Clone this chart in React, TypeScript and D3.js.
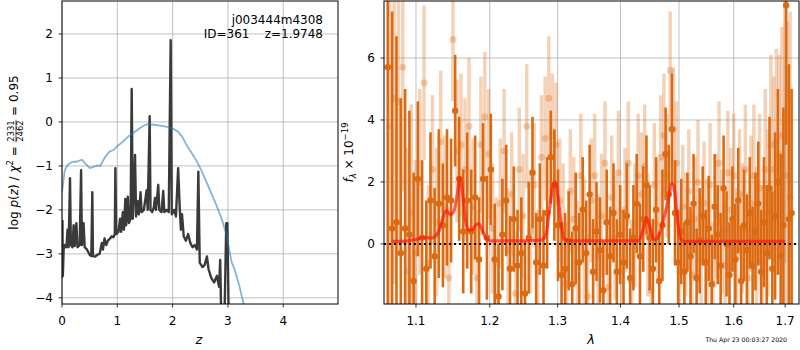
import React, { useEffect, useRef } from 'react';
import * as d3 from 'd3';

// --- left panel: redshift PDF ---
const pzZ = [0, 0.008, 0.015, 0.03, 0.05, 0.08, 0.1, 0.12, 0.145, 0.16, 0.19, 0.21, 0.23, 0.26, 0.28, 0.32, 0.345, 0.36, 0.39, 0.41, 0.45, 0.5, 0.53, 0.548, 0.56, 0.6, 0.64, 0.68, 0.72, 0.74, 0.77, 0.8, 0.83, 0.87, 0.9, 0.93, 0.955, 0.965, 0.98, 1.02, 1.05, 1.07, 1.1, 1.12, 1.145, 1.16, 1.19, 1.21, 1.24, 1.26, 1.28, 1.3, 1.32, 1.34, 1.37, 1.39, 1.42, 1.44, 1.48, 1.53, 1.55, 1.585, 1.6, 1.63, 1.66, 1.68, 1.7, 1.74, 1.76, 1.8, 1.83, 1.85, 1.89, 1.93, 1.965, 1.985, 2.03, 2.06, 2.1, 2.13, 2.15, 2.17, 2.2, 2.24, 2.28, 2.32, 2.36, 2.4, 2.44, 2.465, 2.49, 2.54, 2.58, 2.62, 2.65, 2.7, 2.75, 2.8, 2.84, 2.86, 2.88, 2.93, 2.97, 2.99, 3.02, 3.1];
const pzLogp = [-3.55, -2.25, -3.5, -2.9, -2.8, -2.85, -2.45, -2.85, -1.28, -2.8, -2.85, -2.35, -2.82, -2.3, -2.85, -2.8, -1.1, -2.8, -2.3, -2.85, -2.9, -3.02, -3.05, -1.6, -3.05, -3.06, -3.02, -3.0, -2.75, -2.9, -2.65, -2.8, -2.7, -2.65, -2.6, -2.62, -2.55, -1.05, -2.55, -2.5, -2.2, -2.5, -2.05, -2.45, -1.75, -2.35, -1.7, -2.3, -2.2, 0.75, -2.2, -1.6, -0.75, -2.15, -1.8, -2.1, -1.6, -2.05, -2.0, -1.55, -2.0, 0.13, -2.0, -2.05, -1.95, -1.73, -2.0, -1.43, -2.0, -2.05, -1.57, -2.05, -2.0, -2.05, 1.86, -2.1, -2.0, -2.15, -1.05, -2.0, -2.45, -2.1, -2.6, -2.7, -2.55, -2.75, -2.85, -2.8, -2.9, -1.13, -3.2, -3.3, -3.25, -3.06, -3.35, -3.55, -3.65, -3.5, -3.75, -3.14, -4.5, -5.0, -2.3, -2.3, -5.0, -6.0];

const priorZ = [0, 0.02, 0.05, 0.1, 0.15, 0.2, 0.27, 0.36, 0.42, 0.5, 0.56, 0.63, 0.69, 0.78, 0.86, 0.93, 1.0, 1.1, 1.2, 1.3, 1.4, 1.48, 1.55, 1.65, 1.75, 1.9, 2.0, 2.1, 2.18, 2.25, 2.35, 2.43, 2.52, 2.62, 2.72, 2.8, 2.9, 2.98, 3.03, 3.07, 3.12, 3.2, 3.28, 3.35];
const priorLogp = [-1.6, -1.4, -1.1, -0.98, -0.93, -0.91, -0.9, -0.86, -0.94, -1.05, -1.03, -0.99, -1.0, -0.8, -0.67, -0.64, -0.55, -0.45, -0.33, -0.24, -0.15, -0.08, -0.05, -0.06, -0.08, -0.11, -0.15, -0.22, -0.35, -0.52, -0.72, -0.88, -1.1, -1.39, -1.68, -1.92, -2.25, -2.6, -2.95, -3.2, -3.35, -3.7, -4.12, -4.5];

const zTicks = [0, 1, 2, 3, 4];
const lpTicks = [-4, -3, -2, -1, 0, 1, 2];

// --- right panel: 1D spectrum ---
const darkStart = 1.064;
const darkStep = 0.0055;
const darkFlux = [5.7, 0.5, 0.7, -0.3, 0.5, 0.3, -1.2, 2.1, 0.2, -0.8, 1.4, -0.4, 1.3, 0.6, 1.5, 1.4, 4.3, 2.1, 0.4, 1.4, 0.4, 1.5, -0.5, 2.1, 0.2, 2.4, -0.5, -1.7, 0.3, 1.4, -0.8, 0.8, -0.7, -0.3, -1.6, 0.2, 2.3, -0.6, 0.8, -0.7, 1.0, 2.8, 1.9, 0.6, -1.0, -0.8, 0.1, -1.3, 0.5, -0.6, 1.1, -0.3, 1.6, -0.9, 0.4, -0.2, -1.5, 0.7, -0.4, 1.0, -0.9, 0.3, -0.6, 0.9, -1.1, 0.2, 1.3, -0.4, 0.8, 1.9, 0.2, -0.8, 1.1, -1.2, 0.6, 2.9, 1.6, 3.7, 1.0, -0.6, 0.4, -0.9, 0.7, -0.4, 1.3, -1.1, 0.1, 0.9, -0.6, 0.5, -1.3, 1.2, 0.3, -0.7, 1.8, 0.0, -1.0, 0.8, -0.5, 1.4, -1.2, 0.6, -0.2, 1.0, -0.7, 0.4, 1.3, -0.9, 0.7, -0.3, 1.8, -0.8, 0.9, 2.0, -0.4, 0.6, 7.7, 0.8, 1.0];
const darkErr = [8, 7, 6, 5, 4.5, 4, 3.5, 2.5, 2.5, 2.2, 2.2, 2.2, 2.4, 2.0, 2.2, 2.0, 1.8, 2.0, 2.0, 2.2, 2.0, 2.0, 2.0, 1.8, 2.0, 1.8, 1.8, 1.7, 1.8, 1.8, 1.7, 1.7, 1.8, 1.8, 1.7, 1.8, 1.8, 1.6, 1.8, 1.8, 1.8, 1.5, 1.8, 1.8, 1.7, 1.8, 1.6, 1.7, 1.8, 1.6, 1.7, 1.7, 1.6, 1.7, 1.6, 1.7, 1.6, 1.7, 1.6, 1.6, 1.7, 1.6, 1.7, 1.7, 1.6, 1.7, 1.6, 1.7, 1.7, 1.6, 1.7, 1.6, 1.7, 1.6, 1.8, 1.5, 1.6, 1.8, 1.7, 1.7, 1.7, 1.6, 1.6, 1.6, 1.6, 1.6, 1.7, 1.6, 1.7, 1.7, 1.6, 1.7, 1.6, 1.7, 1.7, 1.7, 1.7, 1.7, 1.8, 1.7, 1.8, 1.8, 1.8, 1.8, 1.9, 1.9, 2.0, 2.0, 2.1, 2.2, 2.3, 2.5, 2.7, 3.0, 3.3, 3.8, 4.5, 5, 4];

const lightStart = 1.0665;
const lightStep = 0.0055;
const lightFlux = [3.8, 4.7, 4.6, 5.7, -0.9, 1.0, -0.3, 2.0, 5.2, -0.6, 2.4, 0.7, 3.3, 1.2, -1.1, 6.6, 3.0, 3.2, 2.4, 3.8, 1.2, -1.1, 3.2, 4.1, 2.9, 0.5, -0.6, 1.3, 3.0, -0.2, 1.6, -1.6, 2.4, 0.9, 3.8, 0.4, 1.9, -0.9, 2.8, 3.4, 4.7, 3.5, 3.2, 1.4, 0.6, -1.3, 1.7, 0.8, -0.6, 2.2, 0.1, -1.7, 1.4, 2.2, -0.4, 0.9, 2.6, -1.4, 1.5, 0.2, 2.3, -0.9, 1.1, 2.6, -1.2, 0.6, 2.2, 1.6, 2.5, 0.3, -1.5, 1.9, 0.7, 2.8, 3.5, 2.2, 5.6, 3.7, 2.6, -0.9, 1.2, 0.3, 1.7, -1.0, 0.8, 2.0, -0.5, 1.3, 0.1, 1.9, -1.3, 0.9, 2.6, 0.4, -0.7, 2.3, 1.1, 2.2, -0.2, 1.6, 0.5, 2.4, -1.1, 1.3, 2.2, 0.2, 1.8, -0.6, 2.4, 1.0, 3.2, 2.4, 3.3, 2.9, 3.5, 3.9, 2.2, 1.5];
const lightErr = [6, 6, 5, 4, 4, 3.5, 3, 3, 2.5, 2.5, 2.4, 2.4, 2.3, 2.3, 2.3, 2.0, 2.3, 2.3, 2.3, 2.2, 2.2, 2.2, 2.2, 2.1, 2.1, 2.1, 2.1, 2.1, 2.0, 2.0, 2.0, 2.0, 2.0, 2.0, 2.0, 2.0, 2.0, 2.0, 2.0, 2.0, 2.0, 2.0, 2.0, 2.0, 2.0, 2.0, 2.0, 2.0, 2.0, 2.0, 2.0, 2.0, 2.0, 2.0, 2.0, 2.0, 2.0, 2.0, 2.0, 2.0, 2.0, 2.0, 2.0, 2.0, 2.0, 2.0, 2.0, 2.0, 2.0, 2.0, 2.0, 2.0, 2.0, 2.0, 2.0, 2.0, 1.9, 2.0, 2.0, 2.0, 2.0, 2.0, 2.0, 2.0, 2.0, 2.0, 2.0, 2.0, 2.0, 2.0, 2.0, 2.0, 2.0, 2.0, 2.0, 2.0, 2.0, 2.0, 2.0, 2.1, 2.1, 2.1, 2.2, 2.2, 2.3, 2.3, 2.4, 2.5, 2.6, 2.7, 2.9, 3.0, 3.0, 3.2, 3.5, 4.5, 5, 6];

const modelWave = [1.07, 1.08, 1.09, 1.1, 1.105, 1.11, 1.115, 1.12, 1.125, 1.13, 1.135, 1.14, 1.145, 1.15, 1.155, 1.158, 1.162, 1.166, 1.17, 1.175, 1.18, 1.185, 1.19, 1.195, 1.2, 1.25, 1.275, 1.282, 1.287, 1.292, 1.296, 1.3, 1.305, 1.31, 1.32, 1.4, 1.43, 1.437, 1.444, 1.45, 1.457, 1.463, 1.47, 1.476, 1.482, 1.487, 1.491, 1.495, 1.5, 1.505, 1.51, 1.6, 1.7];
const modelFlux = [0.08, 0.08, 0.1, 0.14, 0.18, 0.2, 0.2, 0.19, 0.24, 0.4, 0.8, 1.08, 0.95, 1.05, 1.6, 2.15, 1.7, 0.8, 0.45, 0.45, 0.6, 0.65, 0.4, 0.18, 0.1, 0.1, 0.12, 0.3, 1.0, 1.8, 2.0, 1.6, 0.7, 0.15, 0.1, 0.1, 0.1, 0.4, 0.85, 0.5, 0.13, 0.2, 0.6, 1.0, 1.5, 1.95, 1.85, 1.2, 0.4, 0.12, 0.08, 0.08, 0.08];

const waveTicks = [1.1, 1.2, 1.3, 1.4, 1.5, 1.6, 1.7];
const fluxTicks = [0, 2, 4, 6];

const FONT = 'DejaVu Sans';
const ORANGE = '#db6a13';

const App: React.FC = () => {
  const svgRef = useRef<SVGSVGElement>(null);

  useEffect(() => {
    if (!svgRef.current) return;
    const svg = d3.select(svgRef.current);
    svg.selectAll('*').remove();
    svg.attr('font-family', FONT);

    const L = { x0: 62, x1: 338, y0: 1, y1: 304 };
    const R = { x0: 384, x1: 799, y0: 1, y1: 304 };

    const defs = svg.append('defs');
    [['clipL', L], ['clipR', R]].forEach(([id, b]: any) => {
      defs.append('clipPath').attr('id', id).append('rect')
        .attr('x', b.x0).attr('y', b.y0).attr('width', b.x1 - b.x0).attr('height', b.y1 - b.y0);
    });

    // ---------- left panel ----------
    const zx = d3.scaleLinear().domain([0, 4.99]).range([L.x0, L.x1]);
    const ly = d3.scaleLinear().domain([-4.14, 2.75]).range([L.y1, L.y0]);

    const gl = svg.append('g');
    zTicks.forEach(t => {
      gl.append('line').attr('x1', zx(t)).attr('x2', zx(t)).attr('y1', L.y0).attr('y2', L.y1)
        .attr('stroke', '#b0b0b0').attr('stroke-width', 0.8);
    });
    lpTicks.forEach(t => {
      gl.append('line').attr('x1', L.x0).attr('x2', L.x1).attr('y1', ly(t)).attr('y2', ly(t))
        .attr('stroke', '#b0b0b0').attr('stroke-width', 0.8);
    });

    const lineL = d3.line<number>().x((_, i) => zx(pzZ[i])).y(d => ly(d));
    const priorLine = d3.line<number>().x((_, i) => zx(priorZ[i])).y(d => ly(d));
    const plotL = gl.append('g').attr('clip-path', 'url(#clipL)');
    plotL.append('path').attr('d', lineL(pzLogp) as string).attr('fill', 'none')
      .attr('stroke', '#3a3a3a').attr('stroke-width', 2.4).attr('stroke-linejoin', 'round');
    plotL.append('path').attr('d', priorLine(priorLogp) as string).attr('fill', 'none')
      .attr('stroke', '#1f77b4').attr('stroke-opacity', 0.55).attr('stroke-width', 1.8);

    gl.append('rect').attr('x', L.x0).attr('y', L.y0).attr('width', L.x1 - L.x0).attr('height', L.y1 - L.y0)
      .attr('fill', 'none').attr('stroke', 'black').attr('stroke-width', 1);

    zTicks.forEach(t => {
      gl.append('line').attr('x1', zx(t)).attr('x2', zx(t)).attr('y1', L.y1).attr('y2', L.y1 + 3.5)
        .attr('stroke', 'black').attr('stroke-width', 0.8);
      gl.append('text').attr('x', zx(t)).attr('y', 325).attr('text-anchor', 'middle')
        .attr('font-size', 12).text(String(t));
    });
    lpTicks.forEach(t => {
      gl.append('line').attr('x1', L.x0 - 3.5).attr('x2', L.x0).attr('y1', ly(t)).attr('y2', ly(t))
        .attr('stroke', 'black').attr('stroke-width', 0.8);
      gl.append('text').attr('x', 53).attr('y', ly(t) + 4.3).attr('text-anchor', 'end')
        .attr('font-size', 12).text(t < 0 ? '\u2212' + Math.abs(t) : String(t));
    });

    gl.append('text').attr('x', 199).attr('y', 344).attr('text-anchor', 'middle')
      .attr('font-size', 13).attr('font-style', 'italic').text('z');

    gl.append('text').attr('x', 323).attr('y', 24).attr('text-anchor', 'end')
      .attr('font-size', 12).text('j003444m4308');
    gl.append('text').attr('x', 323).attr('y', 38).attr('text-anchor', 'end')
      .attr('font-size', 12).attr('xml:space', 'preserve').style('white-space', 'pre')
      .text('ID=361    z=1.9748');

    // rotated y label with fraction
    const yl = gl.append('g');
    const ta = yl.append('text').attr('x', 0).attr('y', 0).attr('font-size', 12);
    ta.append('tspan').text('log ');
    ta.append('tspan').attr('font-style', 'italic').text('p');
    ta.append('tspan').text('(');
    ta.append('tspan').attr('font-style', 'italic').text('z');
    ta.append('tspan').text(') / ');
    ta.append('tspan').attr('font-style', 'italic').text('\u03c7');
    ta.append('tspan').attr('font-size', 8.5).attr('dy', -5).text('2');
    ta.append('tspan').attr('dy', 5).attr('xml:space', 'preserve').text('\u00a0=\u00a0');
    const wA = (ta.node() as SVGTextElement).getComputedTextLength();
    const num = yl.append('text').attr('font-size', 8.5).attr('text-anchor', 'middle').text('2331');
    const fracW = (num.node() as SVGTextElement).getComputedTextLength() + 1;
    num.attr('x', wA + fracW / 2).attr('y', -3.8);
    yl.append('text').attr('font-size', 8.5).attr('text-anchor', 'middle')
      .attr('x', wA + fracW / 2).attr('y', 5.3).text('2462');
    yl.append('line').attr('x1', wA).attr('x2', wA + fracW).attr('y1', -2).attr('y2', -2)
      .attr('stroke', 'black').attr('stroke-width', 0.7);
    const tc = yl.append('text').attr('x', wA + fracW).attr('y', 0).attr('font-size', 12)
      .text('\u00a0=\u00a00.95');
    const total = wA + fracW + (tc.node() as SVGTextElement).getComputedTextLength();
    yl.attr('transform', `translate(18,${(L.y0 + L.y1) / 2}) rotate(-90) translate(${-total / 2},0)`);

    // ---------- right panel ----------
    const wx = d3.scaleLog().domain([1.0593, 1.728]).range([R.x0, R.x1]);
    const fy = d3.scaleLinear().domain([-1.94, 7.84]).range([R.y1, R.y0]);

    const gr = svg.append('g');
    waveTicks.forEach(t => {
      gr.append('line').attr('x1', wx(t)).attr('x2', wx(t)).attr('y1', R.y0).attr('y2', R.y1)
        .attr('stroke', '#b0b0b0').attr('stroke-width', 0.8);
    });
    fluxTicks.forEach(t => {
      gr.append('line').attr('x1', R.x0).attr('x2', R.x1).attr('y1', fy(t)).attr('y2', fy(t))
        .attr('stroke', '#b0b0b0').attr('stroke-width', 0.8);
    });

    const plotR = gr.append('g').attr('clip-path', 'url(#clipR)');

    const drawSpec = (start: number, step: number, flux: number[], err: number[], alpha: number, bw: number, r: number) => {
      const g = plotR.append('g').attr('opacity', alpha);
      flux.forEach((f, i) => {
        const x = wx(start + step * i);
        g.append('line').attr('x1', x).attr('x2', x).attr('y1', fy(f - err[i])).attr('y2', fy(f + err[i]))
          .attr('stroke', ORANGE).attr('stroke-width', bw);
      });
      flux.forEach((f, i) => {
        g.append('circle').attr('cx', wx(start + step * i)).attr('cy', fy(f)).attr('r', r).attr('fill', ORANGE);
      });
    };
    // light layer: each element semi-transparent
    const lg = plotR.append('g');
    lightFlux.forEach((f, i) => {
      const x = wx(lightStart + lightStep * i);
      lg.append('line').attr('x1', x).attr('x2', x).attr('y1', fy(f - lightErr[i])).attr('y2', fy(f + lightErr[i]))
        .attr('stroke', ORANGE).attr('stroke-opacity', 0.3).attr('stroke-width', 3.5);
    });
    lightFlux.forEach((f, i) => {
      lg.append('circle').attr('cx', wx(lightStart + lightStep * i)).attr('cy', fy(f)).attr('r', 3.5)
        .attr('fill', ORANGE).attr('fill-opacity', 0.3);
    });
    drawSpec(darkStart, darkStep, darkFlux, darkErr, 1, 2.6, 3.2);

    plotR.append('line').attr('x1', R.x0).attr('x2', R.x1).attr('y1', fy(0)).attr('y2', fy(0))
      .attr('stroke', 'black').attr('stroke-width', 2).attr('stroke-dasharray', '2,3');

    const modelLine = d3.line<number>().x((_, i) => wx(modelWave[i])).y(d => fy(d)).curve(d3.curveMonotoneX);
    plotR.append('path').attr('d', modelLine(modelFlux) as string).attr('fill', 'none')
      .attr('stroke', '#ff1a0a').attr('stroke-opacity', 0.7).attr('stroke-width', 3.2);

    gr.append('rect').attr('x', R.x0).attr('y', R.y0).attr('width', R.x1 - R.x0).attr('height', R.y1 - R.y0)
      .attr('fill', 'none').attr('stroke', 'black').attr('stroke-width', 1);

    waveTicks.forEach(t => {
      gr.append('line').attr('x1', wx(t)).attr('x2', wx(t)).attr('y1', R.y1).attr('y2', R.y1 + 3.5)
        .attr('stroke', 'black').attr('stroke-width', 0.8);
      gr.append('text').attr('x', wx(t)).attr('y', 325).attr('text-anchor', 'middle')
        .attr('font-size', 12).text(t.toFixed(1));
    });
    fluxTicks.forEach(t => {
      gr.append('line').attr('x1', R.x0 - 3.5).attr('x2', R.x0).attr('y1', fy(t)).attr('y2', fy(t))
        .attr('stroke', 'black').attr('stroke-width', 0.8);
      gr.append('text').attr('x', 375).attr('y', fy(t) + 4.3).attr('text-anchor', 'end')
        .attr('font-size', 12).text(String(t));
    });

    gr.append('text').attr('x', 591).attr('y', 344).attr('text-anchor', 'middle')
      .attr('font-size', 13).attr('font-style', 'italic').text('\u03bb');

    const fl = gr.append('text').attr('transform', `translate(353,${(R.y0 + R.y1) / 2}) rotate(-90)`)
      .attr('text-anchor', 'middle').attr('font-size', 12);
    fl.append('tspan').attr('font-style', 'italic').text('f');
    fl.append('tspan').attr('font-style', 'italic').attr('font-size', 8.5).attr('dy', 3).text('\u03bb');
    fl.append('tspan').attr('dy', -3).text('\u00a0\u00d7\u00a010');
    fl.append('tspan').attr('font-size', 8.5).attr('dy', -5).text('\u221219');

    svg.append('text').attr('x', 787).attr('y', 342).attr('text-anchor', 'end')
      .attr('font-size', 6.2).text('Thu Apr 23 00:03:27 2020');
  }, []);

  return (
    <svg ref={svgRef} width={800} height={350}
      style={{ position: 'absolute', left: 0, top: 0, background: 'white' }} />
  );
};

export default App;
